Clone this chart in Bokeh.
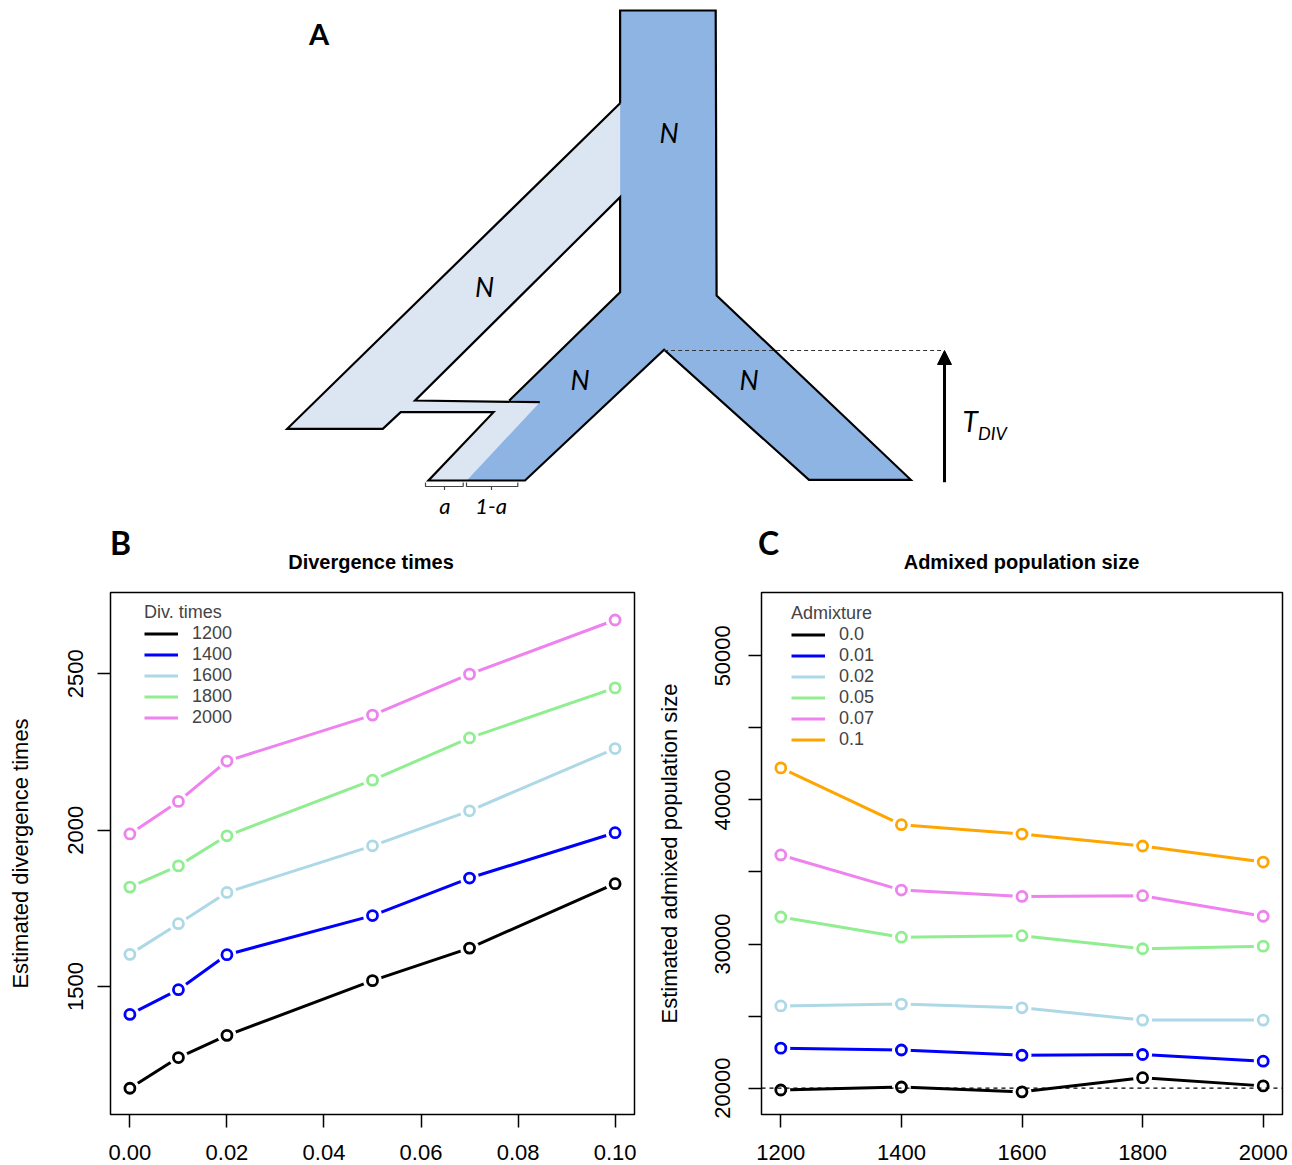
from bokeh.plotting import figure
from bokeh.models import (Range1d, FixedTicker, Legend, LegendItem, Arrow,
                          NormalHead, Span)
from bokeh.layouts import column, row
from bokeh.embed import file_html
from bokeh.resources import INLINE
from bokeh.core.properties import value

# ---------------- Panel B data: divergence times ----------------
b_admixture = [0.0, 0.01, 0.02, 0.05, 0.07, 0.10]
b_series_labels = ["1200", "1400", "1600", "1800", "2000"]
est_div_1200 = [1175, 1273, 1344, 1519, 1623, 1829]
est_div_1400 = [1411, 1490, 1602, 1727, 1847, 1992]
est_div_1600 = [1603, 1701, 1801, 1950, 2062, 2261]
est_div_1800 = [1818, 1886, 1982, 2160, 2295, 2455]
est_div_2000 = [1988, 2092, 2221, 2368, 2499, 2672]
b_colors = ["#000000", "#0000FF", "#ADD8E6", "#90EE90", "#EE82EE"]
b_x_ticks = [0.0, 0.02, 0.04, 0.06, 0.08, 0.10]
b_x_tick_labels = ["0.00", "0.02", "0.04", "0.06", "0.08", "0.10"]
b_y_ticks = [1500, 2000, 2500]
b_y_tick_labels = ["1500", "2000", "2500"]

# ---------------- Panel C data: admixed population size ----------------
c_div_times = [1200, 1400, 1600, 1800, 2000]
c_series_labels = ["0.0", "0.01", "0.02", "0.05", "0.07", "0.1"]
est_n_adm_000 = [19870, 20078, 19741, 20726, 20156]
est_n_adm_001 = [22774, 22645, 22282, 22333, 21867]
est_n_adm_002 = [25704, 25834, 25574, 24719, 24719]
est_n_adm_005 = [31874, 30475, 30578, 29671, 29852]
est_n_adm_007 = [36178, 33741, 33300, 33352, 31926]
est_n_adm_010 = [42220, 38279, 37630, 36800, 35686]
c_colors = ["#000000", "#0000FF", "#ADD8E6", "#90EE90", "#EE82EE", "#FFA500"]
c_x_ticks = [1200, 1400, 1600, 1800, 2000]
c_x_tick_labels = ["1200", "1400", "1600", "1800", "2000"]
c_y_ticks = [20000, 25000, 30000, 35000, 40000, 45000, 50000]
c_y_tick_labels = ["20000", "", "30000", "", "40000", "", "50000"]
true_pop_size = 20000

# ---------------- Panel A diagram (page pixel coordinates) ----------------
dark_x = [619.6, 715.2, 716.1, 910.3, 808.5, 663.6, 524.5, 466.2, 539.3, 508.8, 619.6]
dark_y = [10, 10, 295, 479.3, 479.3, 349.3, 480, 480, 401.7, 400, 291.7]
light_x = [619.6, 286.7, 382.3, 400.2, 493.0, 428.0, 466.2, 539.3, 414.6, 619.6]
light_y = [102.7, 428.3, 428.3, 411.7, 411.7, 480, 480, 401.7, 400, 196.7]
edge1_x = [619.6, 619.6, 715.2, 716.1, 910.3, 808.5, 663.6, 524.5, 428.0, 493.0, 400.2, 382.3, 286.7, 619.6]
edge1_y = [102.7, 10, 10, 295, 479.3, 479.3, 349.3, 480, 480, 411.7, 411.7, 428.3, 428.3, 102.7]
edge2_x = [539.3, 414.6, 619.6, 619.6, 508.8]
edge2_y = [401.7, 400, 196.7, 291.7, 400]
bracket_xs = [[425, 425, 462.7, 462.7], [444, 444], [466, 466, 517.3, 517.3], [491, 491]]
bracket_ys = [[482, 486, 486, 482], [486, 489.5], [482, 486, 486, 482], [486, 489.5]]
n_label_x = [668.7, 484.1, 579.5, 748.6]
n_label_y = [131.7, 285.8, 378.8, 379.2]
n_label_text = ["N", "N", "N", "N"]
prop_label_x = [444.3, 490.7]
prop_label_y = [505, 505]
prop_label_text = ["a", "1-a"]
tdiv_line_x = [663.6, 943.0]
tdiv_line_y = [350.0, 350.0]

# panel letters and titles of B and C (page pixel coordinates)
panel_letter_x = [318.5, 120, 768]
panel_letter_y = [33.3, 541.5, 541.5]
panel_letter_size = ["29px", "32px", "32px"]
panel_letters = ["A", "B", "C"]
panel_title_x = [370.5, 1021]
panel_title_y = [561, 561]
panel_titles = ["Divergence times", "Admixed population size"]

SANS = "Liberation Sans"

# ---------------- Panel A figure (also holds B/C headings) ----------------
pa = figure(width=1292, height=585, x_range=Range1d(0, 1292), y_range=Range1d(585, 0),
            min_border=0, toolbar_location=None, output_backend="svg",
            x_axis_location=None, y_axis_location=None)
pa.grid.visible = False
pa.outline_line_color = None
pa.patch(light_x, light_y, fill_color="#DCE6F2", line_color=None)
pa.patch(dark_x, dark_y, fill_color="#8EB4E3", line_color=None)
pa.line(edge1_x, edge1_y, line_color="black", line_width=2.2, line_join="miter")
pa.line(edge2_x, edge2_y, line_color="black", line_width=2.2, line_join="miter")
pa.multi_line(bracket_xs, bracket_ys, line_color="#444444", line_width=1.2)
pa.line(tdiv_line_x, tdiv_line_y, line_color="#333333", line_width=1.2, line_dash="4 3")
pa.add_layout(Arrow(end=NormalHead(size=14, fill_color="black", line_color="black"),
                    x_start=944, y_start=481.7, x_end=944, y_end=350,
                    line_width=3, line_color="black"))
pa.text(n_label_x, n_label_y, text=n_label_text, text_font=value("Lato"),
        text_font_style="italic", text_font_size="27px", text_align="center",
        text_baseline="middle", text_color="black")
pa.text(prop_label_x, prop_label_y, text=prop_label_text, text_font=value("Lato"),
        text_font_style="italic", text_font_size="22px", text_align="center",
        text_baseline="middle", text_color="black")
pa.text([962], [420], text=["T"], text_font=value("Lato"), text_font_style="italic",
        text_font_size="28px", text_align="left", text_baseline="middle")
pa.text([977.5], [432], text=["DIV"], text_font=value("Lato"), text_font_style="italic",
        text_font_size="18px", text_align="left", text_baseline="middle")
for lx, ly, ls, lt in zip(panel_letter_x, panel_letter_y, panel_letter_size, panel_letters):
    pa.text([lx], [ly], text=[lt], text_font=value("Lato"), text_font_style="bold",
            text_font_size=ls, text_align="center", text_baseline="middle")
pa.text(panel_title_x, panel_title_y, text=panel_titles, text_font=value(SANS),
        text_font_style="bold", text_font_size="20px", text_align="center",
        text_baseline="middle")


def make_panel(xs, series, colors, labels, legend_title, x_rng, y_rng,
               x_ticks, x_tick_labels, y_ticks, y_tick_labels, y_label,
               width, mb_left, mb_right, label_standoff, axis_label_standoff,
               legend_loc):
    p = figure(width=width, height=580, x_range=Range1d(*x_rng), y_range=Range1d(*y_rng),
               min_border_left=mb_left, min_border_right=mb_right,
               min_border_top=7, min_border_bottom=51,
               toolbar_location=None, output_backend="svg")
    p.grid.visible = False
    p.outline_line_color = "black"
    p.outline_line_width = 1.5
    for ax in (p.xaxis[0], p.yaxis[0]):
        ax.axis_line_color = None
        ax.major_tick_line_color = "black"
        ax.major_tick_line_width = 1.5
        ax.major_tick_out = 13
        ax.major_tick_in = 0
        ax.minor_tick_line_color = None
        ax.major_label_text_font = SANS
        ax.major_label_text_font_size = "22px"
        ax.major_label_text_color = "black"
    p.xaxis.ticker = FixedTicker(ticks=x_ticks)
    p.xaxis.major_label_overrides = dict(zip(x_ticks, x_tick_labels))
    p.xaxis.major_label_standoff = 17
    p.yaxis.ticker = FixedTicker(ticks=y_ticks)
    p.yaxis.major_label_overrides = dict(zip(y_ticks, y_tick_labels))
    p.yaxis.major_label_orientation = "vertical"
    p.yaxis.major_label_standoff = label_standoff
    p.yaxis.axis_label = y_label
    p.yaxis.axis_label_text_font = SANS
    p.yaxis.axis_label_text_font_size = "22px"
    p.yaxis.axis_label_text_font_style = "normal"
    p.yaxis.axis_label_text_color = "black"
    p.yaxis.axis_label_standoff = axis_label_standoff

    items = []
    for ys, col, lab in zip(series, colors, labels):
        r = p.line(xs, ys, line_color=col, line_width=3)
        p.scatter(xs, ys, size=19, fill_color="white", line_color=None)
        p.scatter(xs, ys, marker="circle", size=10, fill_color=None,
                  line_color=col, line_width=2.8)
        items.append(LegendItem(label=lab, renderers=[r]))

    legend = Legend(items=items, title=legend_title, location=legend_loc,
                    border_line_color=None, background_fill_alpha=0,
                    padding=0, spacing=0, margin=0,
                    glyph_width=34, glyph_height=21, label_height=21,
                    label_standoff=14, label_text_font=SANS,
                    label_text_font_size="18px", title_text_font=SANS,
                    title_text_font_size="18px", title_text_font_style="normal",
                    title_standoff=0)
    p.add_layout(legend)
    return p


pb = make_panel(b_admixture,
                [est_div_1200, est_div_1400, est_div_1600, est_div_1800, est_div_2000],
                b_colors, b_series_labels, "Div. times",
                (-0.004, 0.104), (1091, 2760),
                b_x_ticks, b_x_tick_labels, b_y_ticks, b_y_tick_labels,
                "Estimated divergence times", 646, 110, 12, 14, 33,
                (34, 386))

pc = make_panel(c_div_times,
                [est_n_adm_000, est_n_adm_001, est_n_adm_002, est_n_adm_005,
                 est_n_adm_007, est_n_adm_010],
                c_colors, c_series_labels, "Admixture",
                (1168, 2032), (18170, 54390),
                c_x_ticks, c_x_tick_labels, c_y_ticks, c_y_tick_labels,
                "Estimated admixed population size", 646, 115, 10, 18, 31,
                (30, 364))
pc.add_layout(Span(location=true_pop_size, dimension="width", line_color="black",
                   line_width=1.2, line_dash="4 4"))

layout = column(pa, row(pb, pc))
open("out.html", "w").write(file_html(layout, INLINE))
